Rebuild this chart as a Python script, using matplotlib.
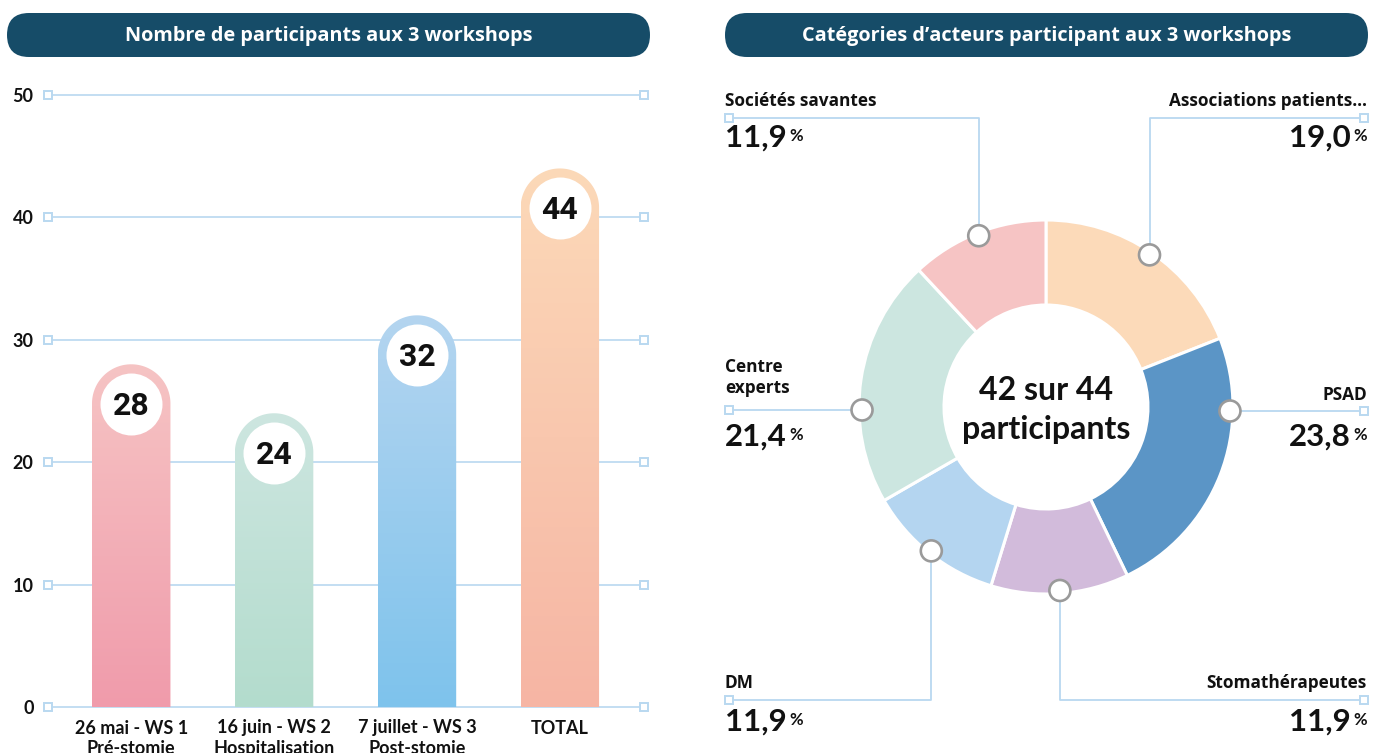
import numpy as np
import matplotlib
matplotlib.use("Agg")
import matplotlib.pyplot as plt
from matplotlib.patches import FancyBboxPatch, PathPatch, Circle
from matplotlib.path import Path
from matplotlib.colors import to_rgb

plt.rcParams['font.family'] = ['Lato', 'DejaVu Sans']
LABEL_FONT = ['Open Sans', 'Lato', 'DejaVu Sans']

# ---------------- data ----------------
left_title = "Nombre de participants aux 3 workshops"
right_title = "Catégories d’acteurs participant aux 3 workshops"

bar_categories = ["26 mai - WS 1\nPré-stomie", "16 juin - WS 2\nHospitalisation",
                  "7 juillet - WS 3\nPost-stomie", "TOTAL"]
bar_values = [28, 24, 32, 44]
y_ticks = [0, 10, 20, 30, 40, 50]
bar_top_colors = ['#f6c4c4', '#cde6e0', '#b4d5f0', '#fcd9b8']
bar_bottom_colors = ['#f09bab', '#b3dccd', '#7ec3ec', '#f6b5a4']

donut_categories = ["Associations patients…", "PSAD", "Stomathérapeutes", "DM",
                    "Centre\nexperts", "Sociétés savantes"]
donut_percent = [19.0, 23.8, 11.9, 11.9, 21.4, 11.9]
donut_colors = ['#fcdab9', '#5b95c6', '#d2bbdb', '#b4d5f0', '#cce6e0', '#f6c4c4']
center_text = "42 sur 44\nparticipants"

# ---------------- style ----------------
W, H = 1381, 753
BANNER = '#164c68'
GRID = '#b9d8f0'
MARK_EDGE = '#9a9a9a'
INK = '#111111'

fig = plt.figure(figsize=(W / 100, H / 100), dpi=100)
renderer = fig.canvas.get_renderer()

# overlay axes in pixel coordinates (y up)
ov = fig.add_axes([0, 0, 1, 1])
ov.patch.set_alpha(0)
ov.set_xlim(0, W)
ov.set_ylim(0, H)


def Y(y):
    return H - y


def banner(x0, x1, y0, y1, text):
    h = y1 - y0
    p = FancyBboxPatch((x0, Y(y1)), x1 - x0, h,
                       boxstyle=f"round,pad=0,rounding_size={h / 2}",
                       fc=BANNER, ec='none', zorder=1)
    ov.add_patch(p)
    ov.text((x0 + x1) / 2, Y((y0 + y1) / 2) - 1, text, color='white', fontsize=14.3,
            fontweight='bold', family=LABEL_FONT, ha='center', va='center', zorder=2)


banner(7, 650, 13, 57, left_title)
banner(725, 1368, 13, 57, right_title)

# ---------------- donut ----------------
cx, cy = 1046, Y(407)
R_OUT = 187
RING = 85
wedges, _ = ov.pie(donut_percent, colors=donut_colors, startangle=90,
                   counterclock=False, radius=R_OUT, center=(cx, cy), frame=True,
                   wedgeprops=dict(width=RING, edgecolor='white', linewidth=2.2))
ov.set_xlim(0, W)
ov.set_ylim(0, H)
ov.set_aspect('auto')
ov.text(cx, Y(410), center_text, ha='center', va='center', fontsize=23,
        fontweight='bold', linespacing=1.45, color=INK, zorder=5)

XL, XR = 729, 1364      # connector end squares
TL, TR = 725, 1367      # text anchors
R_MARK = 184
layout = [
    dict(side='R', kind='v', line=118, name=106, pct=147),   # Associations
    dict(side='R', kind='h', line=411, name=400, pct=446),   # PSAD
    dict(side='R', kind='v', line=700, name=688, pct=731),   # Stomathérapeutes
    dict(side='L', kind='v', line=700, name=688, pct=731),   # DM
    dict(side='L', kind='h', line=410, name=393, pct=446),   # Centre experts
    dict(side='L', kind='v', line=118, name=106, pct=147),   # Sociétés savantes
]


def px_extent(artist):
    bb = artist.get_window_extent(renderer)
    return bb.x0, bb.x1


for w, cat, val, lay in zip(wedges, donut_categories, donut_percent, layout):
    if lay['kind'] == 'v':
        ang = np.deg2rad((w.theta1 + w.theta2) / 2)
        mx = cx + R_MARK * np.cos(ang)
        my = cy + R_MARK * np.sin(ang)
        xe = XR if lay['side'] == 'R' else XL
        xs = [mx, mx, xe]
        ys = [my, Y(lay['line']), Y(lay['line'])]
    else:
        dy = Y(lay['line']) - cy
        dx = np.sqrt(R_MARK ** 2 - dy ** 2)
        mx = cx + dx if lay['side'] == 'R' else cx - dx
        my = Y(lay['line'])
        xe = XR if lay['side'] == 'R' else XL
        xs = [mx, xe]
        ys = [my, my]
    ov.plot(xs, ys, color=GRID, lw=1.3, zorder=3, solid_capstyle='butt')
    ov.plot([xe], [Y(lay['line'])], marker='s', ms=5.8, mfc='white', mec=GRID,
            mew=1.4, zorder=4)
    ov.add_patch(Circle((mx, my), 10.5, fc='white', ec=MARK_EDGE, lw=1.9, zorder=6))

    # name (possibly multi-line, last line baseline at lay['name'])
    lines = cat.split('\n')
    ha = 'right' if lay['side'] == 'R' else 'left'
    tx = TR if lay['side'] == 'R' else TL
    for k, ln in enumerate(reversed(lines)):
        ov.text(tx, Y(lay['name'] - 21 * k), ln, ha=ha, va='baseline', fontsize=12.4,
                fontweight='bold', family=LABEL_FONT, color=INK, zorder=5)

    # percentage with superscript %
    num = f"{val:.1f}".replace('.', ',')
    pct_top = lay['pct'] - 19   # top of the small % sign
    if lay['side'] == 'L':
        t = ov.text(tx, Y(lay['pct']), num, ha='left', va='baseline', fontsize=22.5,
                    fontweight='bold', color=INK, zorder=5)
        _, x1 = px_extent(t)
        ov.text(x1 + 3, Y(pct_top), '%', ha='left', va='top', fontsize=12,
                fontweight='bold', color=INK, zorder=5)
    else:
        p = ov.text(tx, Y(pct_top), '%', ha='right', va='top', fontsize=12,
                    fontweight='bold', color=INK, zorder=5)
        x0, _ = px_extent(p)
        ov.text(x0 - 3, Y(lay['pct']), num, ha='right', va='baseline',
                fontsize=22.5, fontweight='bold', color=INK, zorder=5)

ov.axis('off')

# ---------------- bar chart ----------------
ax_l, ax_r, ax_b, ax_t = 47.5, 644, 707, 95
ax = fig.add_axes([ax_l / W, (H - ax_b) / H, (ax_r - ax_l) / W, (ax_b - ax_t) / H])
ax.patch.set_alpha(0)
xmin, xmax = -0.586, 3.589
ax.set_xlim(xmin, xmax)
ax.set_ylim(0, 50)
sx = (ax_r - ax_l) / (xmax - xmin)
sy = (ax_b - ax_t) / 50.0

for t in y_ticks:
    ax.plot([xmin, xmax], [t, t], color=GRID, lw=1.2, zorder=1, clip_on=False)
    ax.plot([xmin, xmax], [t, t], ls='none', marker='s', ms=5.8, mfc='white', mec=GRID,
            mew=1.4, zorder=4, clip_on=False)

xpos = np.arange(len(bar_values))
bars = ax.bar(xpos, bar_values, width=0.549, color='none', edgecolor='none')


def rounded_top_path(x0, w, h, ry):
    xc = x0 + w / 2
    rx = w / 2
    t = np.linspace(np.pi, 0, 80)
    verts = [(x0, 0)] + list(zip(xc + rx * np.cos(t), (h - ry) + ry * np.sin(t))) \
        + [(x0 + w, 0), (x0, 0)]
    codes = [Path.MOVETO] + [Path.LINETO] * (len(verts) - 2) + [Path.CLOSEPOLY]
    return Path(verts, codes)


for rect, v, ctop, cbot in zip(bars, bar_values, bar_top_colors, bar_bottom_colors):
    x0, w, h = rect.get_x(), rect.get_width(), rect.get_height()
    ry = (w * sx / 2) / sy
    path = rounded_top_path(x0, w, h, ry)
    patch = PathPatch(path, fc='none', ec='none')
    ax.add_patch(patch)
    n = 256
    tt = np.linspace(0, 1, n)[:, None]
    grad = (np.array(to_rgb(ctop))[None, :] * (1 - tt) + np.array(to_rgb(cbot))[None, :] * tt)
    img = ax.imshow(grad[:, None, :], extent=[x0, x0 + w, 0, h], origin='upper',
                    aspect='auto', zorder=2, interpolation='bilinear')
    img.set_clip_path(patch)
    xc = x0 + w / 2
    yc = h - 39.5 / sy
    ax.plot([xc], [yc], marker='o', ms=62 * 0.72, mfc='white', mec='none', zorder=3)
    ax.text(xc, yc - 0.15, str(v), ha='center', va='center', fontsize=23,
            fontweight='bold', family=['Roboto', 'DejaVu Sans'], color=INK, zorder=4)

ax.set_xlim(xmin, xmax)
ax.set_ylim(0, 50)
ax.set_yticks(y_ticks)
ax.set_yticklabels([str(t) for t in y_ticks], fontsize=13, fontweight='bold', color=INK)
ax.set_xticks(xpos)
ax.set_xticklabels(bar_categories, fontsize=13, fontweight='bold', color=INK,
                   linespacing=1.25)
ax.tick_params(axis='y', length=0, pad=10)
ax.tick_params(axis='x', length=0, pad=9)
for s in ax.spines.values():
    s.set_visible(False)

fig.savefig('out.png', dpi=100)
